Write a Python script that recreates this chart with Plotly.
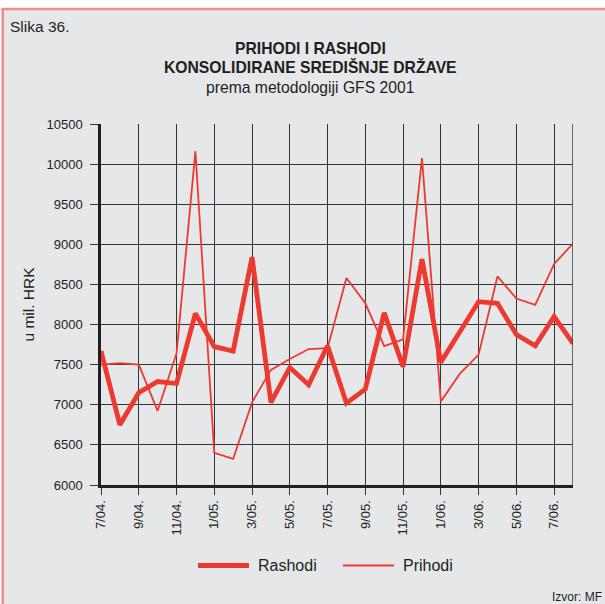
import plotly.graph_objects as go

# Monthly series, July 2004 – August 2006 (u mil. HRK)
months = ["7/04.", "8/04.", "9/04.", "10/04.", "11/04.", "12/04.",
          "1/05.", "2/05.", "3/05.", "4/05.", "5/05.", "6/05.",
          "7/05.", "8/05.", "9/05.", "10/05.", "11/05.", "12/05.",
          "1/06.", "2/06.", "3/06.", "4/06.", "5/06.", "6/06.",
          "7/06.", "8/06."]

rashodi = [7670, 6750, 7150, 7290, 7265, 8140,
           7725, 7670, 8840, 7030, 7465, 7250,
           7735, 7020, 7195, 8145, 7475, 8815,
           7530, 7905, 8285, 8265, 7875, 7735,
           8100, 7765]

prihodi = [7500, 7520, 7500, 6925, 7640, 10160,
           6400, 6325, 7030, 7435, 7570, 7695,
           7705, 8580, 8265, 7730, 7815, 10075,
           7040, 7385, 7625, 8600, 8325, 8245,
           8755, 9010]

y_ticks = [6000, 6500, 7000, 7500, 8000, 8500, 9000, 9500, 10000, 10500]
y_labels = [str(v) for v in y_ticks]

RED = "#ec3a30"
INK = "#231f20"
BG = "#e6e7e9"
PINK = "#ee8f8b"
GRID = "#333333"
FONT = "Liberation Sans"

x = list(range(len(months)))
tick_idx = x[::2]

fig = go.Figure()
fig.add_trace(go.Scatter(x=x, y=rashodi, name="Rashodi", mode="lines",
                         line=dict(color=RED, width=4.8), showlegend=False))
fig.add_trace(go.Scatter(x=x, y=prihodi, name="Prihodi", mode="lines",
                         line=dict(color=RED, width=1.8), showlegend=False))

# plot area in pixels: x 101..573, y 124..485
L, R, T, B = 101, 573, 124, 485
W, H = R - L, B - T


def px(xp):
    return (xp - L) / W


def py(yp):
    return (B - yp) / H


shapes = [
    # right border of the plot area
    dict(type="line", xref="x", yref="paper", x0=25, x1=25, y0=0, y1=1,
         line=dict(color=GRID, width=1.4), layer="above"),
    # white margin and pink frame of the figure box
    dict(type="rect", xref="paper", yref="paper", x0=px(-5), x1=px(610),
         y0=py(8), y1=py(-5), fillcolor="white", line=dict(width=0), layer="below"),
    dict(type="rect", xref="paper", yref="paper", x0=px(-5), x1=px(1.5),
         y0=py(610), y1=py(-5), fillcolor="white", line=dict(width=0), layer="below"),
    dict(type="line", xref="paper", yref="paper", x0=px(1.5), x1=px(610),
         y0=py(9), y1=py(9), line=dict(color=PINK, width=2.5), layer="below"),
    dict(type="line", xref="paper", yref="paper", x0=px(2.8), x1=px(2.8),
         y0=py(8), y1=py(610), line=dict(color=PINK, width=2.5), layer="below"),
    # legend keys
    dict(type="line", xref="paper", yref="paper", x0=px(198), x1=px(249),
         y0=py(565.5), y1=py(565.5), line=dict(color=RED, width=4.8)),
    dict(type="line", xref="paper", yref="paper", x0=px(343), x1=px(394),
         y0=py(565.5), y1=py(565.5), line=dict(color=RED, width=1.8)),
]


def note(text, xp, yp, size, anchor="left"):
    return dict(text=text, x=px(xp), y=py(yp), xref="paper", yref="paper",
                xanchor=anchor, yanchor="middle", showarrow=False,
                font=dict(size=size, color=INK, family=FONT))


annotations = [
    note("Slika 36.", 8, 27, 15.5),
    note("<b>PRIHODI I RASHODI</b>", 310, 48, 15.7, "center"),
    note("<b>KONSOLIDIRANE SREDIŠNJE DRŽAVE</b>", 310, 67, 15.7, "center"),
    note("prema metodologiji GFS 2001", 310, 87, 15.7, "center"),
    note("Rashodi", 256, 565.5, 16),
    note("Prihodi", 401, 565.5, 16),
    note("Izvor: MF", 604, 597, 12, "right"),
]

fig.update_layout(
    width=605, height=604,
    margin=dict(l=L, r=605 - R, t=T, b=604 - B, pad=0),
    paper_bgcolor=BG, plot_bgcolor=BG,
    font=dict(family=FONT, color=INK, size=13),
    shapes=shapes, annotations=annotations,
    showlegend=False,
    xaxis=dict(range=[0, 25], tickmode="array", tickvals=tick_idx,
               ticktext=[months[i] for i in tick_idx], tickangle=-90,
               showgrid=True, gridcolor=GRID, gridwidth=1.4,
               showline=True, linecolor=INK, linewidth=3,
               ticks="outside", ticklen=7, tickwidth=1.4, tickcolor=GRID,
               tickfont=dict(size=13), zeroline=False, fixedrange=True),
    yaxis=dict(range=[6000, 10500], tickmode="array", tickvals=y_ticks,
               ticktext=y_labels,
               showgrid=True, gridcolor=GRID, gridwidth=1.4,
               showline=True, linecolor=INK, linewidth=2.5,
               ticks="outside", ticklen=8, tickwidth=1.4, tickcolor=GRID,
               ticklabelstandoff=5,
               tickfont=dict(size=13), zeroline=False,
               title=dict(text="u mil. HRK", font=dict(size=15.5), standoff=9),
               fixedrange=True),
)

fig.write_html("out.html")
